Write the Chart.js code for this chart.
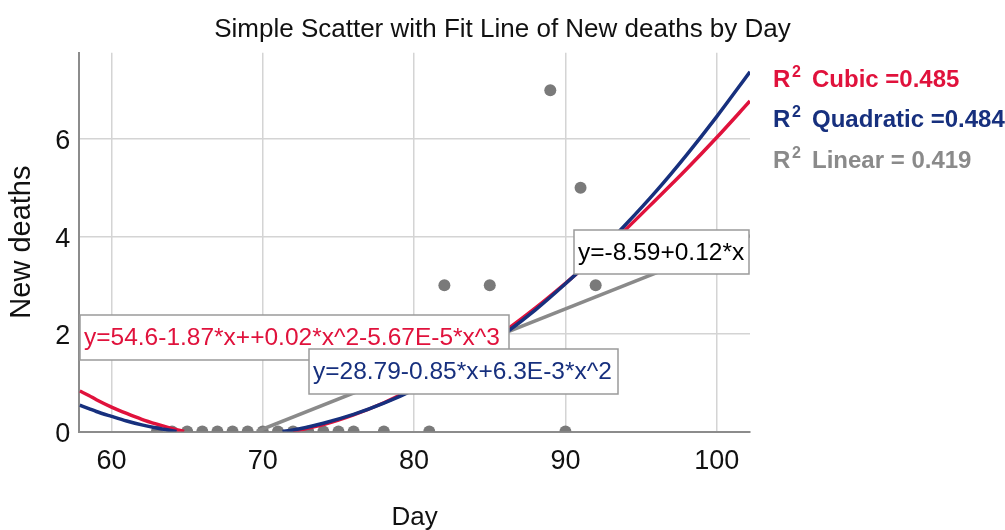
<!DOCTYPE html>
<html>
<head>
<meta charset="utf-8">
<script src="https://cdn.jsdelivr.net/npm/chart.js@4.4.1/dist/chart.umd.min.js"></script>
<style>
  html, body { margin: 0; padding: 0; background: #fff; }
  #wrap { width: 1005px; height: 530px; }
</style>
</head>
<body>
<div id="wrap"><canvas id="scatterChart" width="1005" height="530"></canvas></div>
<script>
// Simple scatter with fit lines (New deaths by Day)
Chart.defaults.font.family = "'Liberation Sans', Arial, Helvetica, sans-serif";
Chart.defaults.color = '#111';

const days = [63, 64, 65, 66, 67, 68, 69, 70, 71, 72, 73, 74, 75, 76, 78, 81, 82, 85, 89, 90, 91, 92];
const newDeaths = [0, 0, 0, 0, 0, 0, 0, 0, 0, 0, 0, 0, 0, 0, 0, 0, 3, 3, 7, 0, 5, 3];

// fit lines; they are cut off below 0, so left and right pieces
const quadLeftX = [57.9, 58.5, 59, 60, 61, 62, 63, 64, 64.3];
const quadLeftY = [0.54, 0.47, 0.41, 0.31, 0.215, 0.135, 0.07, 0.015, 0];
const quadRightX = [71.3, 72, 74, 76, 78, 80, 82, 84, 86, 88, 90, 92, 94, 96, 98, 100, 102.2];
const quadRightY = [0, 0.03, 0.17, 0.35, 0.58, 0.86, 1.19, 1.58, 2.01, 2.49, 3.03, 3.61, 4.25, 4.93, 5.67, 6.46, 7.38];

const cubicLeftX = [57.9, 58.5, 59, 60, 61, 62, 63, 64, 64.8];
const cubicLeftY = [0.83, 0.74, 0.65, 0.5, 0.37, 0.25, 0.15, 0.06, 0];
const cubicRightX = [72, 74, 76, 78, 80, 82, 84, 86, 88, 90, 92, 94, 96, 98, 100, 102.2];
const cubicRightY = [0, 0.14, 0.34, 0.59, 0.89, 1.23, 1.62, 2.06, 2.53, 3.04, 3.58, 4.15, 4.76, 5.38, 6.03, 6.78];

const linearX = [69.6, 102.2];
const linearY = [0, 4.02];

const xTicks = [60, 70, 80, 90, 100];
const yTicks = [0, 2, 4, 6];

const fitNames = ['Cubic =0.485', 'Quadratic =0.484', 'Linear = 0.419'];
const equations = [
    'y=54.6-1.87*x++0.02*x^2-5.67E-5*x^3',
    'y=28.79-0.85*x+6.3E-3*x^2',
    'y=-8.59+0.12*x'
];

const RED = '#e0123c';
const BLUE = '#17307e';
const GREY = '#8a8a8a';

function pts(xs, ys) {
    return xs.map((x, i) => ({ x: x, y: ys[i] }));
}
function twoPieces(lx, ly, rx, ry) {
    const gap = { x: (lx[lx.length - 1] + rx[0]) / 2, y: null };
    return pts(lx, ly).concat([gap], pts(rx, ry));
}

// R^2 list on the right
const rsqLegend = {
    id: 'rsqLegend',
    afterDraw(chart) {
        const ctx = chart.ctx;
        const colors = [RED, BLUE, GREY];
        const base = [87, 127, 168];
        ctx.save();
        ctx.textBaseline = 'alphabetic';
        ctx.textAlign = 'left';
        fitNames.forEach((name, i) => {
            ctx.fillStyle = colors[i];
            ctx.font = "bold 24px 'Liberation Sans', Arial, sans-serif";
            ctx.fillText('R', 773, base[i]);
            ctx.font = "bold 16px 'Liberation Sans', Arial, sans-serif";
            ctx.fillText('2', 792, base[i] - 10);
            ctx.font = "bold 24px 'Liberation Sans', Arial, sans-serif";
            ctx.fillText(name, 812, base[i]);
        });
        ctx.restore();
    }
};

// equation boxes
const fitLabels = {
    id: 'fitLabels',
    afterDatasetsDraw(chart) {
        const ctx = chart.ctx;
        const boxes = [
            { x: 80, y: 315, w: 429, h: 45, color: RED },
            { x: 309, y: 349, w: 309, h: 45, color: BLUE },
            { x: 574, y: 230, w: 175, h: 44, color: '#000' }
        ];
        ctx.save();
        ctx.font = "24.5px 'Liberation Sans', Arial, sans-serif";
        ctx.textBaseline = 'middle';
        ctx.textAlign = 'left';
        boxes.forEach((b, i) => {
            ctx.fillStyle = '#fff';
            ctx.fillRect(b.x, b.y, b.w, b.h);
            ctx.strokeStyle = '#9a9a9a';
            ctx.lineWidth = 1.5;
            ctx.strokeRect(b.x, b.y, b.w, b.h);
            ctx.fillStyle = b.color;
            ctx.fillText(equations[i], b.x + 4, b.y + b.h / 2 + 1);
        });
        ctx.restore();
    }
};

const ctx = document.getElementById('scatterChart');
new Chart(ctx, {
    type: 'scatter',
    data: {
        datasets: [{
            label: 'Quadratic',
            data: twoPieces(quadLeftX, quadLeftY, quadRightX, quadRightY),
            showLine: true,
            borderColor: BLUE,
            borderWidth: 3.5,
            pointRadius: 0,
            cubicInterpolationMode: 'monotone',
            clip: 0,
        }, {
            label: 'Cubic',
            data: twoPieces(cubicLeftX, cubicLeftY, cubicRightX, cubicRightY),
            showLine: true,
            borderColor: RED,
            borderWidth: 3.5,
            pointRadius: 0,
            cubicInterpolationMode: 'monotone',
            clip: 0,
        }, {
            label: 'Linear',
            data: pts(linearX, linearY),
            showLine: true,
            borderColor: GREY,
            borderWidth: 3.5,
            pointRadius: 0,
            clip: 0,
        }, {
            label: 'New deaths',
            data: pts(days, newDeaths),
            pointRadius: 6,
            pointBackgroundColor: '#7a7a7a',
            pointBorderWidth: 0,
            clip: 0,
        }]
    },
    options: {
        responsive: false,
        animation: false,
        layout: { padding: 0 },
        plugins: {
            legend: { display: false },
            tooltip: { enabled: false },
            title: {
                display: true,
                text: 'Simple Scatter with Fit Line of New deaths by Day',
                color: '#111',
                font: { size: 26, weight: 'normal' },
                padding: { top: 14, bottom: 7.5 }
            }
        },
        scales: {
            x: {
                type: 'linear',
                min: 57.87,
                max: 102.2,
                afterBuildTicks: s => { s.ticks = xTicks.map(v => ({ value: v })); },
                afterFit: s => { s.height = 98.5; },
                grid: { color: '#d4d4d4', lineWidth: 1.5, drawTicks: false },
                border: { color: '#8c8c8c', width: 2 },
                ticks: { font: { size: 27 }, color: '#111', padding: 14 },
                title: {
                    display: true, text: 'Day', color: '#111',
                    font: { size: 26, lineHeight: 0.92 }, padding: 0
                }
            },
            y: {
                type: 'linear',
                min: 0,
                max: 7.77,
                afterBuildTicks: s => { s.ticks = yTicks.map(v => ({ value: v })); },
                afterFit: s => { s.width = 79.3; },
                grid: { color: '#d4d4d4', lineWidth: 1.5, drawTicks: false },
                border: { color: '#8c8c8c', width: 2 },
                ticks: { font: { size: 27 }, color: '#111', padding: 9, labelOffset: 3 },
                title: {
                    display: true, text: 'New deaths', color: '#111',
                    font: { size: 29, lineHeight: 1.2 }, padding: { top: 5 }
                }
            },
            rightSpace: {
                type: 'linear',
                position: 'right',
                display: true,
                afterFit: s => { s.width = 255; },
                grid: { display: false },
                border: { display: false },
                ticks: { display: false }
            }
        }
    },
    plugins: [fitLabels, rsqLegend]
});
</script>
</body>
</html>
